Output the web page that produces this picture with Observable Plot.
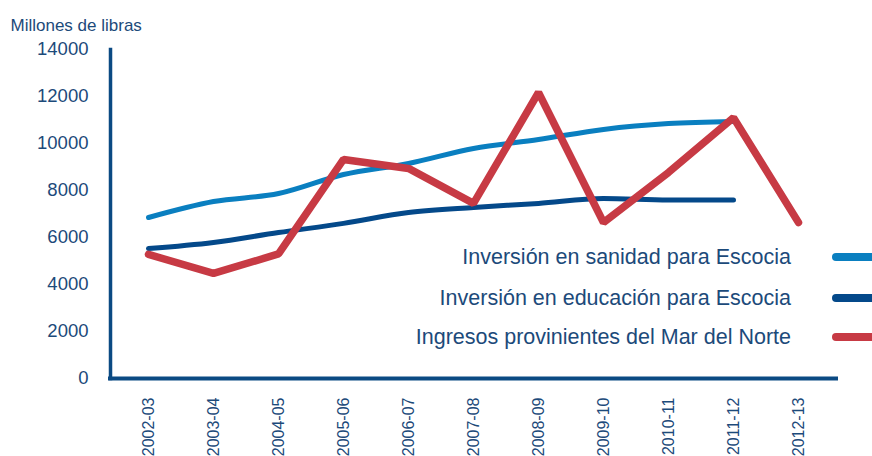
<!DOCTYPE html>
<html>
<head>
<meta charset="utf-8">
<script src="https://cdn.jsdelivr.net/npm/d3@7"></script>
<script src="https://cdn.jsdelivr.net/npm/@observablehq/plot@0.6"></script>
<style>
  body { margin: 0; background: #fff; font-family: "Liberation Sans", Arial, sans-serif; }
  #wrap { position: relative; width: 872px; height: 456px; }
  #legend { position: absolute; left: 0; top: 0; width: 872px; height: 456px; pointer-events: none; }
  .row { position: absolute; right: 81px; font-size: 21.5px; color: #1c4a7a; white-space: nowrap; transform: translateY(-50%); }
  .sw { position: absolute; left: 832px; width: 60px; height: 8px; border-radius: 4px; transform: translateY(-50%); }
</style>
</head>
<body>
<div id="wrap">
  <div id="chart"></div>
  <div id="legend"></div>
</div>
<script>
const years = ["2002-03","2003-04","2004-05","2005-06","2006-07","2007-08","2008-09","2009-10","2010-11","2011-12","2012-13"];
const sanidad = [6850, 7530, 7870, 8680, 9150, 9790, 10170, 10600, 10850, 10940, null];
const educacion = [5530, 5790, 6210, 6600, 7060, 7280, 7450, 7660, 7600, 7600, null];
const ingresos = [5280, 4470, 5300, 9320, 8940, 7450, 12170, 6640, 8770, 11100, 6640];
const seriesNames = ["Inversión en sanidad para Escocia", "Inversión en educación para Escocia", "Ingresos provinientes del Mar del Norte"];
const seriesColors = ["#0a7fc0", "#04498a", "#c73a44"];
const yTicks = [0, 2000, 4000, 6000, 8000, 10000, 12000, 14000];

const toRows = (vals) => years.map((y, i) => ({year: y, value: vals[i]})).filter(d => d.value != null);
const textColor = "#1c4a7a";
const axisColor = "#0b4a83";

const chart = Plot.plot({
  width: 872,
  height: 456,
  marginLeft: 110,
  marginRight: 36,
  marginTop: 49,
  marginBottom: 78,
  style: {fontFamily: "Liberation Sans, Arial, sans-serif", color: textColor, background: "#fff"},
  x: {type: "point", domain: years, padding: 0.533, label: null},
  y: {domain: [0, 14000], label: null},
  marks: [
    Plot.axisY({ticks: yTicks, tickSize: 0, tickPadding: 22, fontSize: 18.5, tickFormat: d => String(d), label: null}),
    Plot.axisX({tickSize: 0, tickPadding: 19, tickRotate: -90, fontSize: 16, label: null}),
    Plot.frame({anchor: "left", stroke: axisColor, strokeWidth: 3.5}),
    Plot.ruleY([0], {stroke: axisColor, strokeWidth: 4, insetLeft: -2, insetRight: -2}),
    Plot.line(toRows(sanidad), {x: "year", y: "value", stroke: seriesColors[0], strokeWidth: 5, curve: "monotone-x", strokeLinecap: "round"}),
    Plot.line(toRows(educacion), {x: "year", y: "value", stroke: seriesColors[1], strokeWidth: 5, curve: "monotone-x", strokeLinecap: "round"}),
    Plot.line(toRows(ingresos), {x: "year", y: "value", stroke: seriesColors[2], strokeWidth: 7.5, strokeLinejoin: "miter", strokeLinecap: "round"}),
    Plot.text(["Millones de libras"], {frameAnchor: "top-left", dx: -100, dy: -31, textAnchor: "start", fontSize: 17, fill: textColor})
  ]
});
document.getElementById("chart").appendChild(chart);

const legend = document.getElementById("legend");
const rowY = [257, 298, 337];
seriesNames.forEach((name, i) => {
  const t = document.createElement("div");
  t.className = "row";
  t.style.top = rowY[i] + "px";
  t.textContent = name;
  legend.appendChild(t);
  const s = document.createElement("div");
  s.className = "sw";
  s.style.top = rowY[i] + "px";
  s.style.background = seriesColors[i];
  legend.appendChild(s);
});
</script>
</body>
</html>
